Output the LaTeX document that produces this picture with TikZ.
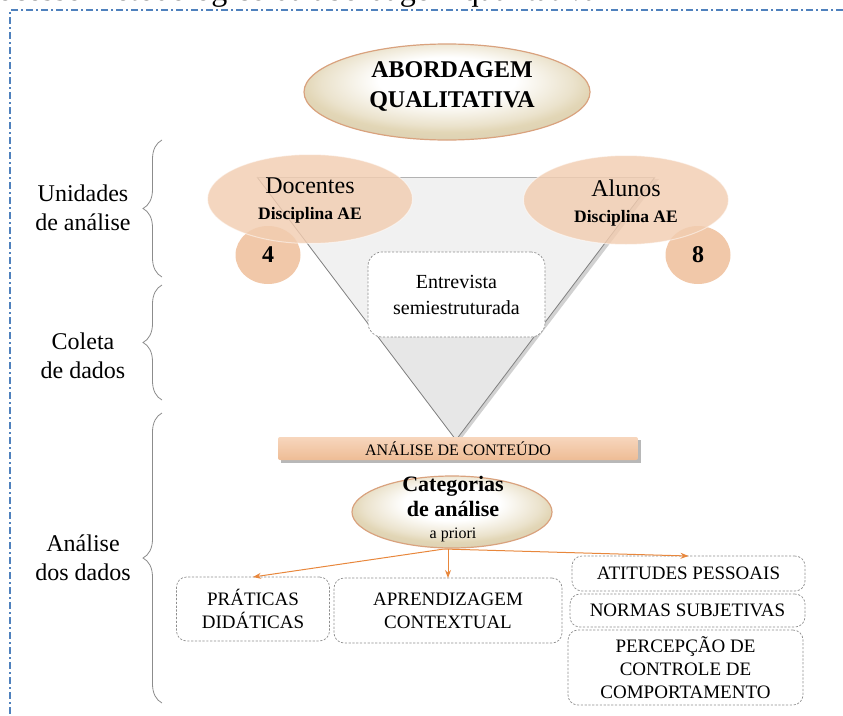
\documentclass[tikz,border=0pt]{standalone}
\usepackage{fontspec}
\setmainfont{Liberation Serif}
\usetikzlibrary{arrows.meta,decorations.pathreplacing,shapes.geometric}

\definecolor{framebl}{HTML}{4F81BD}
\definecolor{peach}{HTML}{F2CDB1}
\definecolor{peachball}{HTML}{F1C8A9}
\definecolor{bartop}{HTML}{F7D6BD}
\definecolor{barbot}{HTML}{EEBC95}
\definecolor{arr}{HTML}{E8873C}
\definecolor{boxline}{HTML}{8E8E8E}
\definecolor{rim}{HTML}{D9A27E}
\definecolor{cream}{HTML}{E2D6B6}
\definecolor{bracegray}{HTML}{8C8C8C}
\definecolor{funnel}{HTML}{F1F1F1}
\definecolor{funnellow}{HTML}{E7E7E7}
\definecolor{funneledge}{HTML}{7F7F7F}

\pgfdeclareradialshading{pearl}{\pgfpoint{0bp}{8bp}}{%
  color(0bp)=(white); color(12bp)=(white); color(22bp)=(cream!70!white); color(25bp)=(cream); color(50bp)=(cream!80!black!90)}

\begin{document}
\begin{tikzpicture}[x=1pt,y=-1pt,
  every node/.style={inner sep=0pt, outer sep=0pt},
  glossy/.style={ellipse, draw=rim, line width=1.2pt, shading=pearl},
  peachell/.style={ellipse, fill=peach, fill opacity=0.82, draw=white, draw opacity=0.5, line width=1pt,
                   minimum width=205pt, minimum height=89pt},
  countball/.style={ellipse, fill=peachball, minimum width=65pt, minimum height=58pt,
                    font=\bfseries\fontsize{24}{26}\selectfont},
  dbox/.style={draw=boxline, dash pattern=on 2.2pt off 1.6pt, line width=0.7pt, rounded corners=10pt,
               fill=white, align=center, font=\fontsize{19}{23}\selectfont},
  sidelabel/.style={align=center, font=\fontsize{24}{29}\selectfont},
  brc/.style={draw=bracegray, line width=0.8pt, decorate, decoration={brace, amplitude=19pt}},
  link/.style={draw=arr, line width=1pt, -{Stealth[length=8pt,width=6pt]}}
]
\useasboundingbox (0,0) rectangle (843,715);

% caption running off the top edge
\begin{scope}
  \clip (0,0) rectangle (843,715);
  \node[anchor=base east, font=\fontsize{32}{36}\selectfont] (caption) at (598,0.5)
    {Processo metodológico da abordagem qualitativa};
\end{scope}

% dash-dot frame
\draw[framebl, line width=1.4pt, dash pattern=on 7pt off 3pt on 2pt off 3pt]
  (843,10) -- (10,10) -- (10,715);

% title
\node[glossy, minimum width=286pt, minimum height=96pt] (abord) at (447,92) {};
\node[align=center, font=\bfseries\fontsize{24}{30}\selectfont] (abordT) at (452,86)
  {ABORDAGEM\\QUALITATIVA};

% funnel
\coordinate (tl) at (257,177);
\coordinate (tr) at (655,177);
\coordinate (ap) at (456,440);
\fill[black!18] ([shift={(3,2)}]tl) -- ([shift={(4,2)}]tr) -- ([shift={(2,3)}]ap) -- cycle;
\fill[funnel] (tl) -- (tr) -- (ap) -- cycle;
\begin{scope}
  \clip (tl) -- (tr) -- (ap) -- cycle;
  \fill[funnellow] (200,337) rectangle (700,445);
\end{scope}
\draw[funneledge, line width=0.8pt] (tr) -- (ap) -- (tl);
\draw[black!30, line width=0.8pt] (tl) -- (tr);

% participants
\node[countball] (n4) at (268,255) {4};
\node[countball] (n8) at (698,255) {8};
\node[peachell] (doc) at (310,199) {};
\node[peachell] (alu) at (626,200) {};
\node[align=center, font=\fontsize{24}{26}\selectfont] (docT) at (310,201)
  {Docentes\\{\bfseries\fontsize{17.5}{20}\selectfont Disciplina AE}};
\node[align=center, font=\fontsize{24}{26}\selectfont] (aluT) at (626,203)
  {Alunos\\{\bfseries\fontsize{17.5}{20}\selectfont Disciplina AE}};

% data collection
\node[dbox, rounded corners=14pt, minimum width=177pt, minimum height=85pt,
      font=\fontsize{20}{26}\selectfont] (entr) at (456.5,294.5) {Entrevista\\semiestruturada};

% content analysis bar
\fill[black!28] (281,440) rectangle (641,463);
\node[rectangle, rounded corners=2pt, top color=bartop, bottom color=barbot,
      minimum width=360pt, minimum height=23pt, font=\fontsize{16}{18}\selectfont] (acont) at (458,448.5)
  {ANÁLISE DE CONTEÚDO};

% categories
\node[glossy, minimum width=200pt, minimum height=72pt] (cat) at (452,512) {};
\node[align=center, font=\bfseries\fontsize{22}{25}\selectfont] (catT) at (453,509)
  {Categorias\\de análise\\[-3pt]{\mdseries\fontsize{16}{18}\selectfont a priori}};
\coordinate (fork) at (444,549);

% category boxes
\node[dbox, minimum width=153pt, minimum height=64pt] (prat) at (253,609) {PRÁTICAS\\DIDÁTICAS};
\node[dbox, minimum width=228pt, minimum height=65pt] (apr) at (448,610.5) {APRENDIZAGEM\\CONTEXTUAL};
\node[dbox, minimum width=233pt, minimum height=35pt] (atit) at (688.5,573.5) {ATITUDES PESSOAIS};
\node[dbox, minimum width=235pt, minimum height=33pt] (norm) at (687.5,610.5) {NORMAS SUBJETIVAS};
\node[dbox, minimum width=235pt, minimum height=75pt] (perc) at (685.5,667.5)
  {PERCEPÇÃO DE\\CONTROLE DE\\COMPORTAMENTO};

\draw[link] (fork) -- (prat.north);
\draw[link] (fork -| apr.north) -- (apr.north);
\draw[link] (fork) -- (atit.north);

% stage labels and braces
\node[sidelabel] (lab1) at (83,208) {Unidades\\de análise};
\node[sidelabel] (lab2) at (83,356) {Coleta\\de dados};
\node[sidelabel] (lab3) at (83,558) {Análise\\dos dados};
\coordinate (b1a) at (162,140);  \coordinate (b1b) at (162,277);
\coordinate (b2a) at (162,285);  \coordinate (b2b) at (162,400);
\coordinate (b3a) at (162,413);  \coordinate (b3b) at (162,703);
\draw[brc] (b1b) -- (b1a);
\draw[brc] (b2b) -- (b2a);
\draw[brc] (b3b) -- (b3a);
\end{tikzpicture}
\end{document}
